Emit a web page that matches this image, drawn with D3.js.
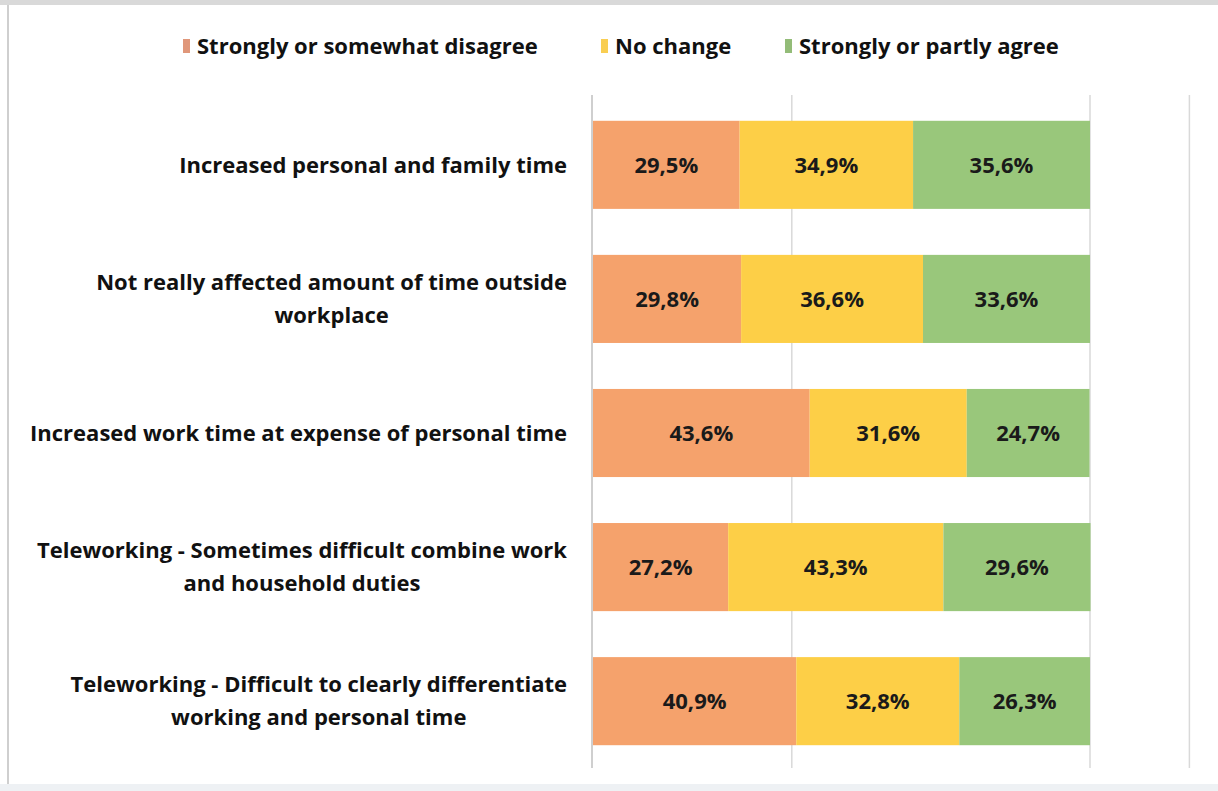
<!DOCTYPE html>
<html>
<head>
<meta charset="utf-8">
<script src="https://cdn.jsdelivr.net/npm/d3@7"></script>
<style>
  body { margin: 0; background: #fff; }
  svg { display: block; font-family: "Open Sans", "DejaVu Sans", sans-serif; }
</style>
</head>
<body>
<svg id="chart"></svg>
<script>
// categories, top to bottom (labels split in lines as in the source)
const categories = [
    ["Increased personal and family time"],
    ["Not really affected amount of time outside", "workplace"],
    ["Increased work time at expense of personal time"],
    ["Teleworking - Sometimes difficult combine work", "and household duties"],
    ["Teleworking - Difficult to clearly differentiate", "working and personal time"]
];
const seriesNames = ["Strongly or somewhat disagree", "No change", "Strongly or partly agree"];
const disagree = [29.5, 29.8, 43.6, 27.2, 40.9];
const noChange = [34.9, 36.6, 31.6, 43.3, 32.8];
const agree = [35.6, 33.6, 24.7, 29.6, 26.3];
const gridTicks = [40, 100, 120];

const width = 1218;
const height = 791;
const colors = ["#F5A26C", "#FDCF47", "#99C77B"];
const legendColors = ["#E0977A", "#F9CE52", "#93BC78"];
const fontSize = 22;

const svg = d3.select("#chart")
    .attr("width", width)
    .attr("height", height);

// page frame
svg.append("rect")
    .attr("x", 0).attr("y", 0)
    .attr("width", width).attr("height", 5)
    .attr("fill", "#d9d9d9");
svg.append("line")
    .attr("x1", 8).attr("x2", 8)
    .attr("y1", 5).attr("y2", 784)
    .attr("stroke", "#cfcfcf").attr("stroke-width", 2);
svg.append("rect")
    .attr("x", 0).attr("y", 784)
    .attr("width", width).attr("height", 7)
    .attr("fill", "#eef1f4");

const keys = categories.map(c => c.join(" "));
const rows = keys.map((k, i) => ({
    key: k,
    values: [disagree[i], noChange[i], agree[i]]
}));

const xScale = d3.scaleLinear()
    .domain([0, 100])
    .range([593, 1090]);

const yScale = d3.scaleBand()
    .domain(keys)
    .range([98, 768])
    .paddingInner(0.343)
    .paddingOuter(0.17);

// grid
svg.append("g")
    .selectAll("line")
    .data(gridTicks)
    .enter()
    .append("line")
    .attr("x1", d => xScale(d))
    .attr("x2", d => xScale(d))
    .attr("y1", 95)
    .attr("y2", 768)
    .attr("stroke", "#d9d9d9")
    .attr("stroke-width", 1.5);

// stacked bars
const stacked = rows.map(r => {
    let acc = 0;
    return r.values.map((v, j) => {
        const seg = { key: r.key, j: j, x0: acc, x1: acc + v, v: v };
        acc += v;
        return seg;
    });
}).flat();

svg.append("g")
    .selectAll("rect")
    .data(stacked)
    .enter()
    .append("rect")
    .attr("x", d => xScale(d.x0))
    .attr("y", d => yScale(d.key))
    .attr("width", d => xScale(d.x1) - xScale(d.x0))
    .attr("height", yScale.bandwidth())
    .attr("fill", d => colors[d.j]);

svg.append("g")
    .selectAll("text")
    .data(stacked)
    .enter()
    .append("text")
    .attr("x", d => (xScale(d.x0) + xScale(d.x1)) / 2)
    .attr("y", d => yScale(d.key) + yScale.bandwidth() / 2)
    .attr("dy", "0.35em")
    .attr("text-anchor", "middle")
    .attr("font-size", fontSize)
    .attr("font-weight", 700)
    .attr("fill", "#1a1a1a")
    .text(d => d.v.toFixed(1).replace(".", ",") + "%");

// vertical axis line
svg.append("line")
    .attr("x1", xScale(0) - 1).attr("x2", xScale(0) - 1)
    .attr("y1", 95).attr("y2", 768)
    .attr("stroke", "#bfbfbf")
    .attr("stroke-width", 1.5);

// category labels
const labels = svg.append("g")
    .selectAll("text")
    .data(categories)
    .enter()
    .append("text")
    .attr("text-anchor", "end")
    .attr("font-size", fontSize)
    .attr("font-weight", 700)
    .attr("fill", "#111");

labels.each(function(lines, i) {
    const cy = yScale(keys[i]) + yScale.bandwidth() / 2;
    const lh = 33;
    const top = cy - (lines.length - 1) * lh / 2;
    lines.forEach((ln, k) => {
        d3.select(this).append("tspan")
            .attr("x", 567)
            .attr("y", top + k * lh)
            .attr("dy", "0.35em")
            .text(ln);
    });
});

// second lines are centered under the first line
labels.each(function(lines) {
    if (lines.length < 2) return;
    const spans = d3.select(this).selectAll("tspan").nodes();
    const w0 = spans[0].getComputedTextLength();
    d3.select(spans[1]).attr("x", 567 - w0 / 2).attr("text-anchor", "middle");
});

// legend
const legendX = [183, 601, 785];
const legend = svg.append("g")
    .selectAll("g")
    .data(seriesNames)
    .enter()
    .append("g")
    .attr("transform", (d, i) => `translate(${legendX[i]}, 46)`);

legend.append("rect")
    .attr("x", 0).attr("y", -7)
    .attr("width", 7).attr("height", 14)
    .attr("fill", (d, i) => legendColors[i]);

legend.append("text")
    .attr("x", 14)
    .attr("dy", "0.35em")
    .attr("font-size", fontSize)
    .attr("font-weight", 700)
    .attr("fill", "#111")
    .text(d => d);
</script>
</body>
</html>
